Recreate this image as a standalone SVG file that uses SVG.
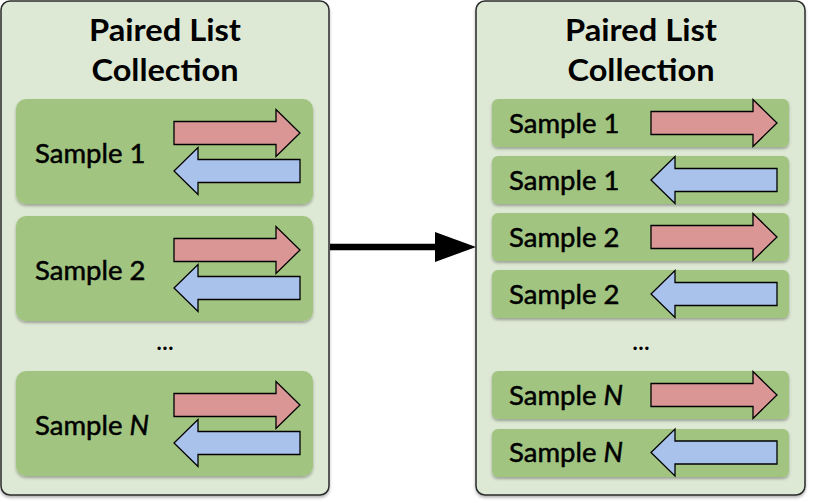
<svg xmlns="http://www.w3.org/2000/svg" xmlns:xlink="http://www.w3.org/1999/xlink" width="818" height="503" viewBox="0 0 818 503">
<style>
.panel{fill:#dee9d5;stroke:#2b2b2b;stroke-width:1.5}
.box{fill:#a1c480}
.red{fill:#d99694;stroke:#000;stroke-width:1.3;stroke-linejoin:miter}
.blue{fill:#a9c2ec;stroke:#000;stroke-width:1.3;stroke-linejoin:miter}
.title{font-family:Lato,"Liberation Sans",sans-serif;font-weight:bold;font-size:30px;fill:#000;text-anchor:middle}
.lbl{font-family:Lato,"Liberation Sans",sans-serif;font-size:27.5px;fill:#000;stroke:#000;stroke-width:0.5}
.dots{font-family:Lato,"Liberation Sans",sans-serif;font-weight:bold;font-size:22px;fill:#000;text-anchor:middle}
</style>
<defs>
<filter id="sh" x="-10%" y="-20%" width="120%" height="150%">
<feDropShadow dx="0" dy="2" stdDeviation="1.5" flood-color="#000" flood-opacity="0.3"/>
</filter>
<path id="ra" d="M0,-11.5 H102 V-23.5 L126,0 L102,23.5 V11.5 H0 Z"/>
<path id="la" d="M126,-11.5 H24 V-23.5 L0,0 L24,23.5 V11.5 H126 Z"/>
</defs>
<rect width="818" height="503" fill="#fff"/>

<g id="left-collection">
<rect class="panel" x="1" y="1" width="328" height="494" rx="9" filter="url(#sh)"/>
<text class="title" x="165" y="41" textLength="152" lengthAdjust="spacingAndGlyphs">Paired List</text>
<text class="title" x="165" y="81" textLength="147" lengthAdjust="spacingAndGlyphs">Collection</text>
<g id="left-sample1">
<rect class="box" x="16" y="99" width="297" height="105" rx="10" filter="url(#sh)"/>
<text class="lbl" x="35" y="163">Sample 1</text>
<use href="#ra" class="red" x="174" y="133"/>
<use href="#la" class="blue" x="174" y="171"/>
</g>
<g id="left-sample2">
<rect class="box" x="16" y="216" width="297" height="105" rx="10" filter="url(#sh)"/>
<text class="lbl" x="35" y="280">Sample 2</text>
<use href="#ra" class="red" x="174" y="250"/>
<use href="#la" class="blue" x="174" y="288"/>
</g>
<text class="dots" x="165" y="350">…</text>
<g id="left-sampleN">
<rect class="box" x="16" y="371" width="297" height="105" rx="10" filter="url(#sh)"/>
<text class="lbl" x="35" y="435">Sample <tspan font-style="italic">N</tspan></text>
<use href="#ra" class="red" x="174" y="405"/>
<use href="#la" class="blue" x="174" y="443"/>
</g>
</g>

<g id="right-collection">
<rect class="panel" x="476" y="1" width="329" height="494" rx="9" filter="url(#sh)"/>
<text class="title" x="641" y="41" textLength="152" lengthAdjust="spacingAndGlyphs">Paired List</text>
<text class="title" x="641" y="81" textLength="147" lengthAdjust="spacingAndGlyphs">Collection</text>
<g id="right-s1-fwd">
<rect class="box" x="492" y="99" width="297" height="48" rx="6" filter="url(#sh)"/>
<text class="lbl" x="509" y="133">Sample 1</text>
<use href="#ra" class="red" x="651" y="123"/>
</g>
<g id="right-s1-rev">
<rect class="box" x="492" y="156" width="297" height="48" rx="6" filter="url(#sh)"/>
<text class="lbl" x="509" y="190">Sample 1</text>
<use href="#la" class="blue" x="651" y="180"/>
</g>
<g id="right-s2-fwd">
<rect class="box" x="492" y="213" width="297" height="48" rx="6" filter="url(#sh)"/>
<text class="lbl" x="509" y="247">Sample 2</text>
<use href="#ra" class="red" x="651" y="237"/>
</g>
<g id="right-s2-rev">
<rect class="box" x="492" y="270" width="297" height="48" rx="6" filter="url(#sh)"/>
<text class="lbl" x="509" y="304">Sample 2</text>
<use href="#la" class="blue" x="651" y="294"/>
</g>
<text class="dots" x="641" y="350">…</text>
<g id="right-sN-fwd">
<rect class="box" x="492" y="371" width="297" height="48" rx="6" filter="url(#sh)"/>
<text class="lbl" x="509" y="405">Sample <tspan font-style="italic">N</tspan></text>
<use href="#ra" class="red" x="651" y="395"/>
</g>
<g id="right-sN-rev">
<rect class="box" x="492" y="429" width="297" height="48" rx="6" filter="url(#sh)"/>
<text class="lbl" x="509" y="462">Sample <tspan font-style="italic">N</tspan></text>
<use href="#la" class="blue" x="651" y="452.5"/>
</g>
</g>

<g id="connectors">
<line x1="330" y1="247" x2="437" y2="247" stroke="#000" stroke-width="6.5"/>
<polygon points="435,232 476,247 435,262" fill="#000"/>
</g>
</svg>
